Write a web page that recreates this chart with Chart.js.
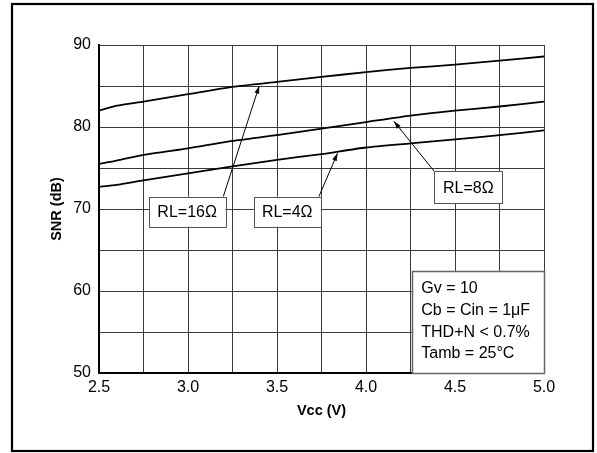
<!DOCTYPE html>
<html>
<head>
<meta charset="utf-8">
<script src="https://cdn.jsdelivr.net/npm/chart.js@4"></script>
<style>
  body { margin: 0; background: #fff; }
</style>
</head>
<body>
<canvas id="snrChart" width="597" height="453"></canvas>
<script>
const vcc = [2.5, 2.6, 2.75, 3.0, 3.25, 3.5, 3.75, 4.0, 4.25, 4.5, 4.75, 5.0];
const snr16 = [82.0, 82.6, 83.1, 84.0, 84.9, 85.5, 86.1, 86.7, 87.2, 87.6, 88.1, 88.6];
const snr8 = [75.5, 75.9, 76.6, 77.4, 78.3, 79.0, 79.8, 80.6, 81.4, 82.0, 82.5, 83.1];
const snr4 = [72.7, 72.95, 73.5, 74.35, 75.2, 76.0, 76.7, 77.5, 78.0, 78.5, 79.0, 79.6];

const conditions = ['Gv = 10', 'Cb = Cin = 1\u03bcF', 'THD+N < 0.7%', 'Tamb = 25\u00b0C'];

// curve labels: box in data units, arrow from box to curve
const labels = [
    { text: 'RL=16\u03a9', box: [2.78, 3.21, 71.5, 67.85], from: [3.198, 71.5], to: [3.40, 85.0] },
    { text: 'RL=4\u03a9', box: [3.37, 3.745, 71.5, 67.85], from: [3.735, 71.5], to: [3.84, 76.8] },
    { text: 'RL=8\u03a9', box: [4.383, 4.767, 74.6, 70.7], from: [4.383, 74.6], to: [4.157, 80.7] }
];

const FONT = "'Liberation Sans', Arial, sans-serif";

const toPoints = (ys) => vcc.map((x, i) => ({ x: x, y: ys[i] }));

const annotations = {
    id: 'annotations',
    beforeDraw(chart) {
        const c = chart.ctx;
        c.save();
        c.strokeStyle = '#000';
        c.lineWidth = 2.2;
        c.strokeRect(12, 4, 581, 447);
        c.restore();
    },
    afterDatasetsDraw(chart) {
        const c = chart.ctx;
        const xs = chart.scales.x, ys = chart.scales.y;
        c.save();
        c.font = '16px ' + FONT;
        c.textBaseline = 'middle';

        labels.forEach(l => {
            // arrow
            const x1 = xs.getPixelForValue(l.from[0]), y1 = ys.getPixelForValue(l.from[1]);
            const x2 = xs.getPixelForValue(l.to[0]), y2 = ys.getPixelForValue(l.to[1]);
            c.strokeStyle = '#000';
            c.lineWidth = 1;
            c.beginPath();
            c.moveTo(x1, y1);
            c.lineTo(x2, y2);
            c.stroke();
            const a = Math.atan2(y2 - y1, x2 - x1);
            c.fillStyle = '#000';
            c.beginPath();
            c.moveTo(x2, y2);
            c.lineTo(x2 - 8 * Math.cos(a - 0.3), y2 - 8 * Math.sin(a - 0.3));
            c.lineTo(x2 - 8 * Math.cos(a + 0.3), y2 - 8 * Math.sin(a + 0.3));
            c.closePath();
            c.fill();

            // box
            const bx = xs.getPixelForValue(l.box[0]), bx2 = xs.getPixelForValue(l.box[1]);
            const by = ys.getPixelForValue(l.box[2]), by2 = ys.getPixelForValue(l.box[3]);
            c.fillStyle = '#fff';
            c.fillRect(bx, by, bx2 - bx, by2 - by);
            c.strokeStyle = '#555';
            c.strokeRect(Math.round(bx) + 0.5, Math.round(by) + 0.5, Math.round(bx2 - bx), Math.round(by2 - by));
            c.fillStyle = '#000';
            c.textAlign = 'center';
            c.fillText(l.text, (bx + bx2) / 2, (by + by2) / 2 + 1);
        });

        // conditions box
        const lx = xs.getPixelForValue(4.26), lx2 = xs.getPixelForValue(5.0);
        const ly = ys.getPixelForValue(62.45), ly2 = ys.getPixelForValue(50);
        c.fillStyle = '#fff';
        c.fillRect(lx, ly, lx2 - lx, ly2 - ly);
        c.strokeStyle = '#666';
        c.lineWidth = 1.5;
        c.strokeRect(Math.round(lx) + 0.5, Math.round(ly) + 0.5, Math.round(lx2 - lx), Math.round(ly2 - ly));
        c.fillStyle = '#000';
        c.textAlign = 'left';
        conditions.forEach((t, i) => {
            c.fillText(t, lx + 9, ly + 18 + i * 21.7);
        });
        c.restore();
    }
};

const lineStyle = {
    borderColor: '#000',
    borderWidth: 1.8,
    pointRadius: 0,
    tension: 0.2,
    fill: false
};

new Chart(document.getElementById('snrChart'), {
    type: 'line',
    data: {
        datasets: [
            Object.assign({ label: 'RL=16\u03a9', data: toPoints(snr16) }, lineStyle),
            Object.assign({ label: 'RL=8\u03a9', data: toPoints(snr8) }, lineStyle),
            Object.assign({ label: 'RL=4\u03a9', data: toPoints(snr4) }, lineStyle)
        ]
    },
    options: {
        responsive: false,
        animation: false,
        devicePixelRatio: 1,
        layout: {
            padding: { left: 0, top: 45, right: 53, bottom: 0 }
        },
        scales: {
            x: {
                type: 'linear',
                min: 2.5,
                max: 5.0,
                afterFit(scale) { scale.height = 80; },
                ticks: {
                    stepSize: 0.25,
                    autoSkip: false,
                    maxRotation: 0,
                    padding: 5,
                    color: '#000',
                    font: { family: FONT, size: 16 },
                    callback: (v) => Math.abs(v * 2 - Math.round(v * 2)) < 1e-6 ? v.toFixed(1) : ''
                },
                grid: { color: '#3a3a3a', lineWidth: 1, drawTicks: false },
                border: { color: '#000', width: 2 },
                title: {
                    display: true,
                    text: 'Vcc (V)',
                    color: '#000',
                    font: { family: FONT, size: 14.5, weight: 'bold' },
                    padding: { top: 0, bottom: 33 }
                }
            },
            y: {
                min: 50,
                max: 90,
                afterFit(scale) { scale.width = 99; },
                ticks: {
                    stepSize: 5,
                    autoSkip: false,
                    padding: 8,
                    color: '#000',
                    font: { family: FONT, size: 16 },
                    callback: (v) => v % 10 === 0 ? v : ''
                },
                grid: { color: '#3a3a3a', lineWidth: 1, drawTicks: false },
                border: { color: '#000', width: 2 },
                title: {
                    display: true,
                    text: 'SNR (dB)',
                    color: '#000',
                    font: { family: FONT, size: 14.5, weight: 'bold' },
                    padding: { top: 48, bottom: 0 }
                }
            }
        },
        plugins: {
            legend: { display: false },
            tooltip: { enabled: false }
        }
    },
    plugins: [annotations]
});
</script>
</body>
</html>
